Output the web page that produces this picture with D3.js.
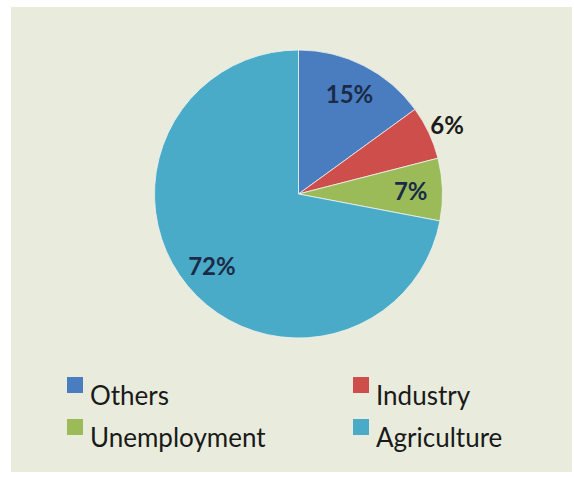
<!DOCTYPE html>
<html>
<head>
<meta charset="utf-8">
<script src="https://cdn.jsdelivr.net/npm/d3@7"></script>
<style>
  body { margin: 0; background: #fff; }
  svg { display: block; }
</style>
</head>
<body>
<div id="chart"></div>
<script>
const categories = ["Others", "Industry", "Unemployment", "Agriculture"];
const shares = [0.15, 0.06, 0.07, 0.72];
const labels = ["15%", "6%", "7%", "72%"];
const colors = ["#4a7dbf", "#cd4e4b", "#9bbb59", "#4aabc8"];

const width = 574;
const height = 477;
const cx = 298.5;
const cy = 194;
const radius = 144;

const data = categories.map((name, i) => ({
  name,
  value: shares[i],
  label: labels[i],
  color: colors[i],
}));

const svg = d3
  .select("#chart")
  .append("svg")
  .attr("width", width)
  .attr("height", height);

// panel background
svg
  .append("rect")
  .attr("x", 11)
  .attr("y", 7)
  .attr("width", 561)
  .attr("height", 465)
  .attr("fill", "#e9ecdc");

const pie = d3.pie().value((d) => d.value).sort(null);
const arcs = pie(data);

const arc = d3.arc().innerRadius(0).outerRadius(radius);

const g = svg.append("g").attr("transform", `translate(${cx},${cy})`);

g.selectAll("path.slice")
  .data(arcs)
  .join("path")
  .attr("class", "slice")
  .attr("d", arc)
  .attr("fill", (d) => d.data.color)
  .attr("stroke", "#eef3f0")
  .attr("stroke-width", 0.8);

// small slices get their label just outside the pie
const labelArc = (d) => {
  const r = d.data.value < 0.065 ? radius * 1.14 : radius * 0.78;
  return d3.arc().innerRadius(r).outerRadius(r).centroid(d);
};

g.selectAll("text.pct")
  .data(arcs)
  .join("text")
  .attr("class", "pct")
  .attr("x", (d) => labelArc(d)[0])
  .attr("y", (d) => labelArc(d)[1])
  .attr("text-anchor", "middle")
  .attr("dominant-baseline", "central")
  .attr("font-family", "Lato, 'Open Sans', sans-serif")
  .attr("font-size", 24)
  .attr("font-weight", "bold")
  .attr("fill", (d) => (d.data.value < 0.065 ? "#1a1a1a" : "#1b2b47"))
  .text((d) => d.data.label);

// legend: two columns, two rows
const legendX = d3.scaleOrdinal().domain([0, 1]).range([67, 353]);
const legendY = d3.scaleOrdinal().domain([0, 1]).range([377, 419]);

const legend = svg
  .append("g")
  .selectAll("g")
  .data(data)
  .join("g")
  .attr(
    "transform",
    (d, i) => `translate(${legendX(i % 2)},${legendY(Math.floor(i / 2))})`
  );

legend
  .append("rect")
  .attr("width", 16)
  .attr("height", 16)
  .attr("fill", (d) => d.color);

legend
  .append("text")
  .attr("x", 23)
  .attr("y", 28)
  .attr("font-family", "Lato, 'Open Sans', sans-serif")
  .attr("font-size", 26)
  .attr("fill", "#1a1a1a")
  .text((d) => d.name);
</script>
</body>
</html>
